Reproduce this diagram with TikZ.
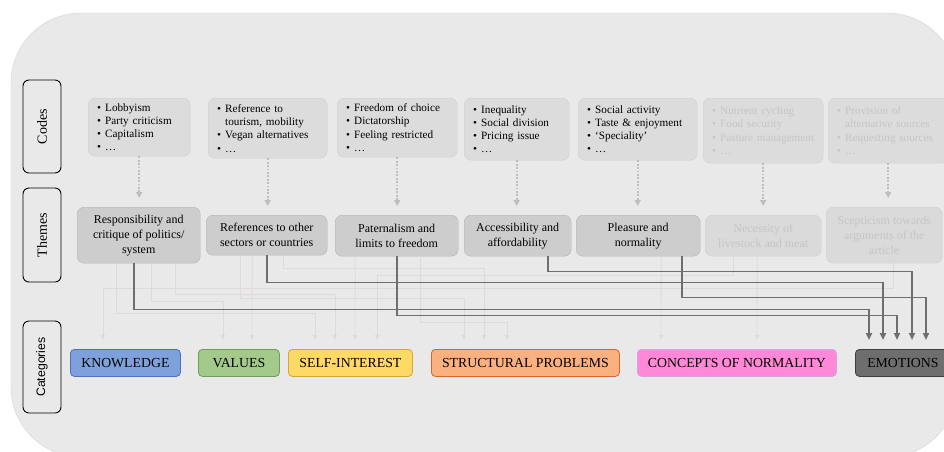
\documentclass[tikz,border=0pt]{standalone}
\usepackage{fontspec}
\setmainfont{Liberation Serif}
\newfontfamily\catsans{Liberation Sans}
\usetikzlibrary{arrows.meta}

\definecolor{bgfill}{HTML}{E9E9E9}
\definecolor{bgline}{HTML}{D3D3D3}
\definecolor{codefill}{HTML}{DCDCDC}
\definecolor{codeline}{HTML}{CFCFCF}
\definecolor{themefill}{HTML}{CDCDCD}
\definecolor{themeline}{HTML}{B3B3B3}
\definecolor{fadetext}{HTML}{C5C5C5}
\definecolor{fadefill}{HTML}{DADADA}
\definecolor{fadeline}{HTML}{DED9DA}
\definecolor{linkgray}{HTML}{6E6E6E}
\definecolor{dotgray}{HTML}{BEBEBE}
\definecolor{knowfill}{HTML}{7FA1DB}
\definecolor{knowline}{HTML}{4C72BF}
\definecolor{valfill}{HTML}{A3C98B}
\definecolor{valline}{HTML}{6F9D58}
\definecolor{selffill}{HTML}{FFD966}
\definecolor{selfline}{HTML}{D5A536}
\definecolor{strucfill}{HTML}{FBB07F}
\definecolor{strucline}{HTML}{D0692E}
\definecolor{normfill}{HTML}{FF88D9}
\definecolor{normline}{HTML}{D9A2E6}
\definecolor{emofill}{HTML}{6E6E6E}
\definecolor{emoline}{HTML}{3E3E3E}

\newcommand{\itm}{\makebox[8pt][l]{\textbullet}}
\newcommand{\cnt}{\hspace*{8pt}}

\tikzset{
  side/.style={draw=black, line width=0.9pt, rounded corners=6pt, rotate=90, inner sep=0pt},
  codebox/.style={draw=codeline, fill=codefill, rounded corners=7pt, anchor=north west, align=left,
    inner xsep=9pt, inner ysep=0pt, font=\fontsize{11.2}{13.3}\selectfont},
  themebox/.style={draw=themeline, fill=themefill, rounded corners=7pt, anchor=north west, align=center,
    inner sep=0pt, font=\fontsize{12}{15}\selectfont},
  faded/.style={draw=codeline, fill=fadefill, text=fadetext},
  catbox/.style={line width=0.8pt, rounded corners=4pt, anchor=north west, minimum height=27pt,
    inner sep=0pt, font=\fontsize{13.8}{15}\selectfont},
  link/.style={draw=linkgray, line width=1.8pt, -{Triangle[width=6pt,length=7pt]}},
  fade/.style={draw=fadeline, line width=0.8pt, -{Triangle[width=4pt,length=5pt]}},
  dotlink/.style={draw=dotgray, line width=1.8pt, dash pattern=on 1.8pt off 1.6pt,
    -{Triangle[width=6pt,length=6pt]}, shorten >=9pt},
}

\begin{document}
\begin{tikzpicture}[x=1pt,y=-1pt]

\clip (0,0) rectangle (944,451);
\draw[draw=bgline, fill=bgfill, rounded corners=70pt] (11,13) rectangle (957,457);

% row labels
\node[side, minimum width=93pt, minimum height=38pt, font=\fontsize{14}{16}\selectfont] (codes) at (42,126.5) {Codes};
\node[side, minimum width=94pt, minimum height=38pt, font=\fontsize{14}{16}\selectfont] (themes) at (42,235) {Themes};
\node[side, minimum width=92pt, minimum height=38pt, font=\catsans\fontsize{12.3}{14}\selectfont] (cats) at (42,367) {Categories};

% codes
\node[codebox, text width=84pt, minimum height=58pt] (c1) at (88,98) {\itm Lobbyism\\ \itm Party criticism\\ \itm Capitalism\\ \itm …};
\node[codebox, text width=101pt, minimum height=60pt] (c2) at (208,98) {\itm Reference to\\ \cnt tourism, mobility\\ \itm Vegan alternatives\\ \itm …};
\node[codebox, text width=102pt, minimum height=59pt] (c3) at (337,98) {\itm Freedom of choice\\ \itm Dictatorship\\ \itm Feeling restricted\\ \itm …};
\node[codebox, text width=87pt, minimum height=62pt] (c4) at (464,98) {\itm Inequality\\ \itm Social division\\ \itm Pricing issue\\ \itm …};
\node[codebox, text width=101pt, minimum height=62pt] (c5) at (578,98) {\itm Social activity\\ \itm Taste \& enjoyment\\ \itm ‘Speciality’\\ \itm …};
\node[codebox, faded, fill=codefill, inner xsep=6pt, text width=108pt, minimum height=65pt] (c6) at (703,98) {\hspace*{3pt}\itm Nutrient cycling\\ \hspace*{3pt}\itm Food security\\ \hspace*{3pt}\itm Pasture management\\ \hspace*{3pt}\itm …};
\node[codebox, faded, fill=codefill, text width=102pt, minimum height=65pt] (c7) at (828,98) {\itm Provision of\\ \cnt alternative sources\\ \itm Requesting sources\\ \itm …};

% themes
\node[themebox, minimum width=123pt, minimum height=56pt] (t1) at (77,207) {Responsibility and\\ critique of politics/\\ system};
\node[themebox, minimum width=121pt, minimum height=40pt] (t2) at (206,215) {References to other\\ sectors or countries};
\node[themebox, minimum width=123pt, minimum height=41pt] (t3) at (335,215) {Paternalism and\\ limits to freedom};
\node[themebox, minimum width=107pt, minimum height=41pt] (t4) at (464,215) {Accessibility and\\ affordability};
\node[themebox, minimum width=124pt, minimum height=41pt] (t5) at (576,215) {Pleasure and\\ normality};
\node[themebox, faded, draw=themeline!60, minimum width=116pt, minimum height=41pt] (t6) at (705,215) {Necessity of\\ livestock and meat};
\node[themebox, faded, draw=themeline!60, minimum width=116pt, minimum height=56pt] (t7) at (826,207) {Scepticism towards\\ arguments of the\\ article};

% categories
\node[catbox, draw=knowline, fill=knowfill, minimum width=110pt] (know) at (70,349) {KNOWLEDGE};
\node[catbox, draw=valline, fill=valfill, minimum width=81pt] (val) at (198,349) {VALUES};
\node[catbox, draw=selfline, fill=selffill, minimum width=124pt] (self) at (288,349) {SELF-INTEREST};
\node[catbox, draw=strucline, fill=strucfill, minimum width=188pt] (struc) at (431,349) {STRUCTURAL PROBLEMS};
\node[catbox, draw=normline, fill=normfill, minimum width=199pt] (norm) at (637,349) {CONCEPTS OF NORMALITY};
\node[catbox, draw=emoline, fill=emofill, minimum width=95pt] (emo) at (855,349) {EMOTIONS};

% codes to themes
\foreach \i in {1,...,7}
  \draw[dotlink] (c\i.south) -- (c\i.south |- t\i.north);

% faint links
\draw[fade] ([xshift=-22.5pt]t1.south) -- ++(0,50) -| ([xshift=27pt,yshift=9pt]self.north west);
\draw[fade] ([xshift=12.5pt]t1.south) -- ++(0,38) -| ([xshift=25pt,yshift=9pt]val.north west);
\draw[fade] ([xshift=36.5pt]t1.south) -- ++(0,31) -| ([xshift=47pt,yshift=9pt]self.north west);
\draw[fade] ([xshift=-26.5pt]t2.south) -- ++(0,43) -| ([xshift=33pt,yshift=9pt]struc.north west);
\draw[fade] ([xshift=-14.5pt]t2.south) -- ([xshift=54pt,yshift=9pt]val.north west);
\draw[fade] ([xshift=16.5pt]t2.south) -- ++(0,13) -| ([xshift=53pt,yshift=9pt]struc.north west);
\draw[fade] ([xshift=-41.5pt]t3.south) -- ([xshift=67pt,yshift=9pt]self.north west);
\draw[fade] ([xshift=23.5pt]t3.south) -- ++(0,66) -| ([xshift=76pt,yshift=9pt]struc.north west);
\draw[fade] ([xshift=23pt]t5.south) -- ([xshift=24pt,yshift=9pt]norm.north west);
\draw[fade] ([xshift=-6pt]t6.south) -- ([xshift=120pt,yshift=9pt]norm.north west);
\draw[fade] ([xshift=-30pt]t6.south) -- ++(0,19) -| ([xshift=89pt,yshift=9pt]self.north west);
\draw[fade] ([xshift=9pt]t7.south) -- ++(0,25) -| ([xshift=33pt,yshift=9pt]know.north west);

% themes to emotions
\draw[link] ([xshift=-4.5pt]t1.south) -- ++(0,46) -| ([xshift=14pt,yshift=9pt]emo.north west);
\draw[link] (t2.south) -- ++(0,27) -| ([xshift=28pt,yshift=9pt]emo.north west);
\draw[link] (t3.south) -- ++(0,59) -| ([xshift=42pt,yshift=9pt]emo.north west);
\draw[link] ([xshift=30pt]t4.south) -- ++(0,15) -| ([xshift=57pt,yshift=9pt]emo.north west);
\draw[link] ([xshift=44pt]t5.south) -- ++(0,41) -| ([xshift=71pt,yshift=9pt]emo.north west);

\end{tikzpicture}
\end{document}
